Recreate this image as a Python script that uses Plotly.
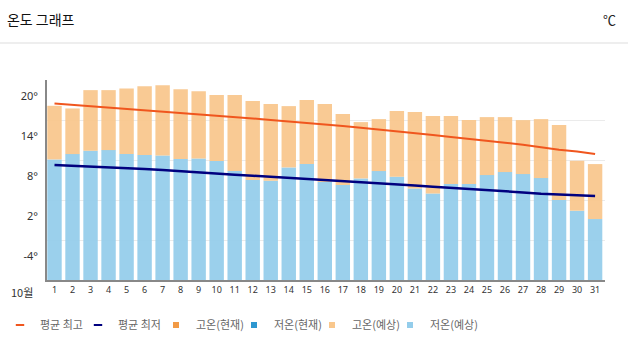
import plotly.graph_objects as go

# ---------------- data ----------------
days = list(range(1, 32))
day_labels = [str(d) for d in days]
month_label = "10월"

high_forecast = [18.55, 18.15, 20.9, 20.9, 21.15, 21.5, 21.65, 21.05, 20.75, 20.15,
                 20.15, 19.25, 18.8, 18.5, 19.4, 18.8, 17.3, 16.1, 16.55, 17.75,
                 17.6, 17.0, 17.0, 16.4, 16.85, 16.85, 16.4, 16.55, 15.65, 10.3, 9.8]
low_forecast = [10.5, 11.3, 11.8, 11.9, 11.3, 11.15, 11.1, 10.55, 10.65, 10.25,
                8.75, 7.4, 7.3, 9.3, 9.8, 7.1, 6.65, 7.65, 8.75, 7.9,
                6.15, 5.4, 6.8, 6.8, 8.15, 8.6, 8.3, 7.7, 4.4, 2.8, 1.55]
avg_high = [18.9, 18.7, 18.45, 18.25, 18.05, 17.9, 17.7, 17.55, 17.35, 17.1,
            16.9, 16.65, 16.4, 16.2, 16.0, 15.75, 15.5, 15.25, 15.0, 14.7,
            14.4, 14.15, 13.85, 13.6, 13.3, 13.0, 12.7, 12.3, 11.95, 11.7, 11.3]
avg_low = [9.65, 9.55, 9.45, 9.3, 9.2, 9.05, 8.9, 8.7, 8.5, 8.35,
           8.2, 8.05, 7.9, 7.7, 7.5, 7.4, 7.25, 7.1, 6.95, 6.8,
           6.6, 6.4, 6.25, 6.05, 5.85, 5.7, 5.55, 5.35, 5.2, 5.1, 5.0]

y_tick_values = [20, 14, 8, 2, -4]
y_tick_labels = ["20°", "14°", "8°", "2°", "-4°"]

Y_MIN, Y_MAX = -7.6, 22.42

C_HIGH_NOW = "#F29A45"
C_LOW_NOW = "#2E97D0"
C_HIGH_FC = "#F9C78C"
C_LOW_FC = "#94CDEB"
C_AVG_HIGH = "#F0561E"
C_AVG_LOW = "#00007F"

FONT = "Noto Sans CJK KR"

fig = go.Figure()

# bars: low (blue) from bottom, high (peach) stacked from low to high
fig.add_trace(go.Bar(
    x=days, y=[l - Y_MIN for l in low_forecast], base=Y_MIN,
    marker=dict(color=C_LOW_FC, line=dict(width=0)), opacity=0.93,
    showlegend=False, hoverinfo="skip"))
fig.add_trace(go.Bar(
    x=days, y=[h - l for h, l in zip(high_forecast, low_forecast)], base=low_forecast,
    marker=dict(color=C_HIGH_FC, line=dict(width=0)), opacity=0.93,
    showlegend=False, hoverinfo="skip"))

fig.add_trace(go.Scatter(x=days, y=avg_high, mode="lines",
                         line=dict(color=C_AVG_HIGH, width=2), showlegend=False))
fig.add_trace(go.Scatter(x=days, y=avg_low, mode="lines",
                         line=dict(color=C_AVG_LOW, width=2.5), showlegend=False))

# legend entries
legend_items = [
    ("평균 최고", C_AVG_HIGH, "line-ew"),
    ("평균 최저", C_AVG_LOW, "line-ew"),
    ("고온(현재)", C_HIGH_NOW, "square"),
    ("저온(현재)", C_LOW_NOW, "square"),
    ("고온(예상)", C_HIGH_FC, "square"),
    ("저온(예상)", C_LOW_FC, "square"),
]
for name, col, sym in legend_items:
    if sym == "line-ew":
        mk = dict(symbol=sym, size=6, line=dict(color=col, width=2), color=col)
    else:
        mk = dict(symbol=sym, size=6, color=col, line=dict(width=0))
    fig.add_trace(go.Scatter(x=[None], y=[None], mode="markers", name=name,
                             marker=mk, showlegend=True))
# invisible spacer entry so the last legend label is not clipped
fig.add_trace(go.Scatter(x=[None], y=[None], mode="markers", name=" ",
                         marker=dict(size=1, color="rgba(0,0,0,0)"), showlegend=True,
                         hoverinfo="skip"))

fig.update_layout(
    width=628, height=355,
    margin=dict(l=47, r=23, t=80, b=75),
    paper_bgcolor="white", plot_bgcolor="white",
    barmode="overlay", bargap=0.2,
    font=dict(family=FONT, color="#333"),
    title=dict(text="온도 그래프", xref="container", yref="container",
               x=0.011, y=1 - 20 / 355, xanchor="left", yanchor="middle",
               font=dict(size=14, color="#111", family=FONT)),
    xaxis=dict(range=[0.584, 31.55], tickmode="array", tickvals=days, ticktext=day_labels,
               showgrid=False, zeroline=False, showline=True, linecolor="#888", linewidth=2,
               ticks="", tickfont=dict(size=9, color="#333", family="Noto Sans"),
               fixedrange=True),
    yaxis=dict(range=[Y_MIN, Y_MAX], tickmode="linear", tick0=Y_MIN, dtick=6,
               showticklabels=False, showgrid=True, gridcolor="#EBEBEB", gridwidth=1,
               zeroline=False, showline=True, linecolor="#888", linewidth=2, ticks=""),
    yaxis2=dict(range=[Y_MIN, Y_MAX], overlaying="y", side="left", tickmode="array",
                tickvals=y_tick_values, ticktext=y_tick_labels, showgrid=False,
                zeroline=False, showline=False, ticks="", ticklabelstandoff=8,
                tickfont=dict(size=11, color="#333", family="Noto Sans")),
    legend=dict(orientation="h", xref="container", yref="container",
                x=0.0, y=1 - 325 / 355, xanchor="left", yanchor="middle",
                font=dict(size=11, color="#666", family=FONT),
                itemwidth=30, entrywidth=33, entrywidthmode="pixels",
                bgcolor="rgba(0,0,0,0)"),
    shapes=[dict(type="line", xref="paper", yref="paper",
                 x0=-47 / 558, x1=581 / 558, y0=1 + 37 / 200, y1=1 + 37 / 200,
                 line=dict(color="#DDDDDD", width=1))],
    annotations=[
        dict(text="℃", xref="paper", yref="paper", x=1 + 4 / 558, y=1 + 60 / 200,
             xanchor="center", yanchor="middle", showarrow=False,
             font=dict(size=13, color="#222", family=FONT)),
        dict(text=month_label, xref="paper", yref="paper", x=-25 / 558, y=-12 / 200,
             xanchor="center", yanchor="middle", showarrow=False,
             font=dict(size=11, color="#333", family=FONT)),
    ],
)

# dummy trace to activate yaxis2
fig.add_trace(go.Scatter(x=[None], y=[None], yaxis="y2", showlegend=False))

fig.write_html(
    "out.html",
    config={"displayModeBar": False},
    post_script="document.body.style.margin='0';document.body.style.overflow='hidden';",
)
